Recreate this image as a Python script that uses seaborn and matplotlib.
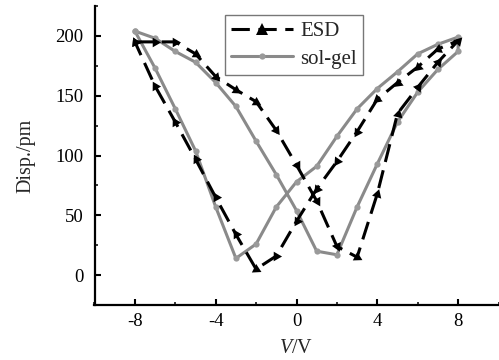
import numpy as np
import pandas as pd
import matplotlib
matplotlib.use("Agg")
import matplotlib.pyplot as plt
from matplotlib.ticker import MultipleLocator
from matplotlib.lines import Line2D
import seaborn as sns

# ESD loop (forward sweep -8 -> 8, then return 8 -> -8)
esd_v = [-8, -7, -6, -5, -4, -3, -2, -1, 0, 1, 2, 3, 4, 5, 6, 7, 8,
         7, 6, 5, 4, 3, 2, 1, 0, -1, -2, -3, -4, -5, -6, -7, -8]
esd_d = [195, 195, 195, 185, 166, 155, 145, 121, 92, 62, 24, 15, 68, 135, 157, 178, 196,
         189, 174, 161, 147, 120, 95, 72, 45, 16, 5, 34, 65, 97, 128, 158, 195]

# sol-gel loop
sg_v = [-8, -7, -6, -5, -4, -3, -2, -1, 0, 1, 2, 3, 4, 5, 6, 7, 8,
        8, 7, 6, 5, 4, 3, 2, 1, 0, -1, -2, -3, -4, -5, -6, -7, -8]
sg_d = [204, 198, 187, 178, 161, 141, 112, 84, 54, 20, 17, 57, 93, 128, 153, 172, 187,
        199, 193, 185, 170, 156, 139, 116, 91, 78, 57, 26, 14, 57, 104, 139, 173, 204]

x_ticks = [-8, -4, 0, 4, 8]
y_ticks = [0, 50, 100, 150, 200]

sns.set_theme(style="ticks")
plt.rcParams['font.family'] = ['Liberation Serif', 'DejaVu Serif']
plt.rcParams['mathtext.fontset'] = 'custom'
plt.rcParams['mathtext.it'] = 'Liberation Serif:italic'
plt.rcParams['mathtext.rm'] = 'Liberation Serif'

fig = plt.figure(figsize=(4.99, 3.6), dpi=100)
ax = fig.add_axes([94.5 / 499, 55 / 360, 404 / 499, 299 / 360])

df_esd = pd.DataFrame({"V": esd_v, "D": esd_d})
df_sg = pd.DataFrame({"V": sg_v, "D": sg_d})

grey = "#8a8a8a"
sns.lineplot(data=df_sg, x="V", y="D", sort=False, estimator=None, ax=ax,
             color=grey, lw=2.2, marker="o", markersize=4.5, markeredgewidth=0,
             markerfacecolor="#9a9a9a", zorder=2)

sns.lineplot(data=df_esd, x="V", y="D", sort=False, estimator=None, ax=ax,
             color="black", lw=2.2, zorder=3)
ax.lines[-1].set_dashes((6, 2.8))

ax.set_xlim(-10, 10)
ax.set_ylim(-25, 225)

# rotated triangle markers pointing along the direction of travel
fig.canvas.draw()
pts = ax.transData.transform(np.column_stack([esd_v, esd_d]))
n = len(esd_v)
for i in range(n):
    j = i - 1 if i > 0 else n - 2
    dx, dy = pts[i] - pts[j]
    ang = np.degrees(np.arctan2(dy, dx))
    ax.plot(esd_v[i], esd_d[i], marker=(3, 0, ang - 90), color="black",
            markersize=8, markeredgewidth=0, linestyle="none", zorder=4)

ax.set_xticks(x_ticks)
ax.set_xticklabels([str(t) for t in x_ticks])
ax.set_yticks(y_ticks)
ax.xaxis.set_minor_locator(MultipleLocator(2))
ax.yaxis.set_minor_locator(MultipleLocator(25))
ax.tick_params(axis="both", which="major", direction="in", length=4, width=1.5,
               labelsize=13.5, colors="black")
ax.tick_params(axis="x", which="major", pad=6)
ax.tick_params(axis="y", which="major", pad=8)
ax.tick_params(axis="both", which="minor", direction="in", length=2, width=1.3)
for s in ["top", "right"]:
    ax.spines[s].set_visible(False)
for s in ["left", "bottom"]:
    ax.spines[s].set_linewidth(1.6)
    ax.spines[s].set_color("black")

ax.set_xlabel(r"$\it{V}$/V", fontsize=14.5, labelpad=6)
ax.set_ylabel("Disp./pm", fontsize=14.5, labelpad=14)

h1 = Line2D([], [], color="black", lw=2.2, dashes=(6, 2.8), marker="^",
            markersize=8, markeredgewidth=0)
h2 = Line2D([], [], color=grey, lw=2.2, marker="o", markersize=4.5,
            markeredgewidth=0, markerfacecolor="#9a9a9a")
leg = ax.legend([h1, h2], ["ESD", "sol-gel"], loc="upper left",
                bbox_to_anchor=(130 / 404, 1 - 9 / 299), fontsize=15,
                frameon=True, fancybox=False, edgecolor="#555555",
                handlelength=3.0, borderpad=0.3, labelspacing=0.4,
                handletextpad=0.35, borderaxespad=0)
leg.get_frame().set_linewidth(1.0)

fig.savefig("out.png", dpi=100)
